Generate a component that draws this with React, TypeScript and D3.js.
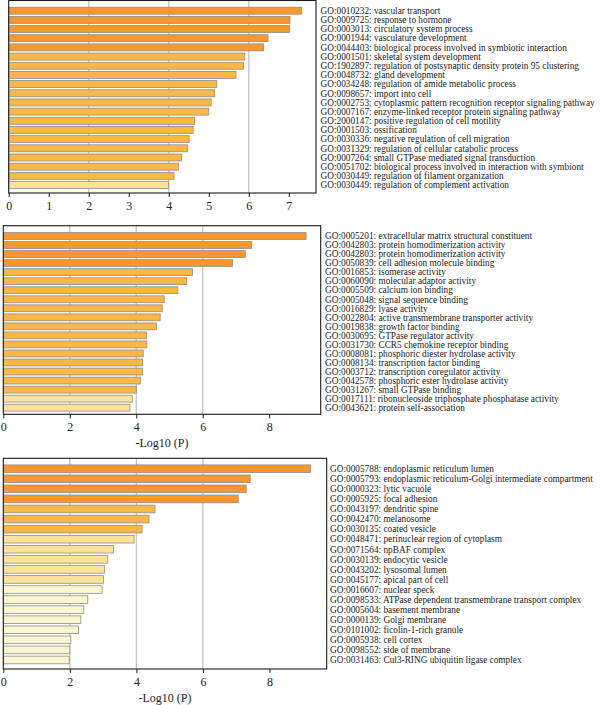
import React, { useEffect, useRef } from "react";
import * as d3 from "d3";

// ---- Data ----
const bpLabels = [
  "GO:0010232: vascular transport",
  "GO:0009725: response to hormone",
  "GO:0003013: circulatory system process",
  "GO:0001944: vasculature development",
  "GO:0044403: biological process involved in symbiotic interaction",
  "GO:0001501: skeletal system development",
  "GO:1902897: regulation of postsynaptic density protein 95 clustering",
  "GO:0048732: gland development",
  "GO:0034248: regulation of amide metabolic process",
  "GO:0098657: import into cell",
  "GO:0002753: cytoplasmic pattern recognition receptor signaling pathway",
  "GO:0007167: enzyme-linked receptor protein signaling pathway",
  "GO:2000147: positive regulation of cell motility",
  "GO:0001503: ossification",
  "GO:0030336: negative regulation of cell migration",
  "GO:0031329: regulation of cellular catabolic process",
  "GO:0007264: small GTPase mediated signal transduction",
  "GO:0051702: biological process involved in interaction with symbiont",
  "GO:0030449: regulation of filament organization",
  "GO:0030449: regulation of complement activation",
];
const bpValues = [7.32, 7.03, 7.02, 6.48, 6.37, 5.9, 5.87, 5.68, 5.2, 5.15, 5.06, 5.0, 4.65, 4.61, 4.51, 4.47, 4.32, 4.24, 4.13, 3.99];
const bpTicks = [0, 1, 2, 3, 4, 5, 6, 7];

const mfLabels = [
  "GO:0005201: extracellular matrix structural constituent",
  "GO:0042803: protein homodimerization activity",
  "GO:0042803: protein homodimerization activity",
  "GO:0050839: cell adhesion molecule binding",
  "GO:0016853: isomerase activity",
  "GO:0060090: molecular adaptor activity",
  "GO:0005509: calcium ion binding",
  "GO:0005048: signal sequence binding",
  "GO:0016829: lyase activity",
  "GO:0022804: active transmembrane transporter activity",
  "GO:0019838: growth factor binding",
  "GO:0030695: GTPase regulator activity",
  "GO:0031730: CCR5 chemokine receptor binding",
  "GO:0008081: phosphoric diester hydrolase activity",
  "GO:0008134: transcription factor binding",
  "GO:0003712: transcription coregulator activity",
  "GO:0042578: phosphoric ester hydrolase activity",
  "GO:0031267: small GTPase binding",
  "GO:0017111: ribonucleoside triphosphate phosphatase activity",
  "GO:0043621: protein self-association",
];
const mfValues = [9.11, 7.47, 7.28, 6.9, 5.69, 5.52, 5.25, 4.84, 4.78, 4.72, 4.61, 4.31, 4.32, 4.21, 4.19, 4.19, 4.13, 4.0, 3.88, 3.81];
const mfTicks = [0, 2, 4, 6, 8];

const ccLabels = [
  "GO:0005788: endoplasmic reticulum lumen",
  "GO:0005793: endoplasmic reticulum-Golgi intermediate compartment",
  "GO:0000323: lytic vacuole",
  "GO:0005925: focal adhesion",
  "GO:0043197: dendritic spine",
  "GO:0042470: melanosome",
  "GO:0030135: coated vesicle",
  "GO:0048471: perinuclear region of cytoplasm",
  "GO:0071564: npBAF complex",
  "GO:0030139: endocytic vesicle",
  "GO:0043202: lysosomal lumen",
  "GO:0045177: apical part of cell",
  "GO:0016607: nuclear speck",
  "GO:0098533: ATPase dependent transmembrane transport complex",
  "GO:0005604: basement membrane",
  "GO:0000139: Golgi membrane",
  "GO:0101002: ficolin-1-rich granule",
  "GO:0005938: cell cortex",
  "GO:0098552: side of membrane",
  "GO:0031463: Cul3-RING ubiquitin ligase complex",
];
const ccValues = [9.23, 7.42, 7.3, 7.06, 4.56, 4.38, 4.17, 3.93, 3.31, 3.14, 3.04, 3.01, 2.97, 2.54, 2.42, 2.33, 2.26, 2.03, 2.0, 1.98];
const ccTicks = [0, 2, 4, 6, 8];

const gridValues = [2, 4, 6];
const axisTitle = "-Log10 (P)";

// ---- Layout ----
const W = 600;
const H = 705;

type Panel = {
  labels: string[];
  values: number[];
  ticks: number[];
  max: number;
  x0: number;
  x1: number;
  top: number;
  bottom: number;
  bandTop: number;
  bandBottom: number;
  labelX: number;
  title: boolean;
};

const panels: Panel[] = [
  { labels: bpLabels, values: bpValues, ticks: bpTicks, max: 7.68, x0: 8.7, x1: 316, top: 0.5, bottom: 193, bandTop: 6.1, bandBottom: 189.6, labelX: 320.5, title: false },
  { labels: mfLabels, values: mfValues, ticks: mfTicks, max: 9.55, x0: 3.3, x1: 320.7, top: 225.7, bottom: 414.3, bandTop: 231.5, bandBottom: 412.2, labelX: 325, title: true },
  { labels: ccLabels, values: ccValues, ticks: ccTicks, max: 9.72, x0: 3.3, x1: 326.7, top: 458.3, bottom: 669, bandTop: 463.7, bandBottom: 665, labelX: 330, title: true },
];

const color = d3
  .scaleThreshold<number, string>()
  .domain([3, 4, 6])
  .range(["#FBF6D0", "#FCE29B", "#FBB847", "#F6972F"]);

export default function App() {
  const ref = useRef<SVGSVGElement | null>(null);

  useEffect(() => {
    const svg = d3.select(ref.current);
    svg.selectAll("*").remove();
    svg.append("rect").attr("width", W).attr("height", H).attr("fill", "#fff");

    panels.forEach((p) => {
      const g = svg.append("g");
      const x = d3.scaleLinear().domain([0, p.max]).range([p.x0, p.x1]);
      const y = d3
        .scaleBand<number>()
        .domain(d3.range(p.values.length))
        .range([p.bandTop, p.bandBottom])
        .paddingInner(0.24)
        .paddingOuter(0.12);

      // gridlines
      g.selectAll("line.grid")
        .data(gridValues)
        .join("line")
        .attr("x1", (d) => x(d))
        .attr("x2", (d) => x(d))
        .attr("y1", p.top)
        .attr("y2", p.bottom)
        .attr("stroke", "#c4c4c4")
        .attr("stroke-width", 1.3);

      // bars
      g.selectAll("rect.bar")
        .data(p.values)
        .join("rect")
        .attr("x", x(0))
        .attr("y", (_, i) => y(i) as number)
        .attr("width", (d) => x(d) - x(0))
        .attr("height", y.bandwidth())
        .attr("fill", (d) => color(d))
        .attr("stroke", "#8e8e8e")
        .attr("stroke-width", 0.8);

      // frame
      g.append("rect")
        .attr("x", p.x0)
        .attr("y", p.top)
        .attr("width", p.x1 - p.x0)
        .attr("height", p.bottom - p.top)
        .attr("fill", "none")
        .attr("stroke", "#1a1a1a")
        .attr("stroke-width", 1.1);

      // axis
      const axis = d3
        .axisBottom(x)
        .tickValues(p.ticks)
        .tickSize(4)
        .tickPadding(4)
        .tickFormat(d3.format("d"));
      const ag = g.append("g").attr("transform", `translate(0,${p.bottom})`).call(axis);
      ag.select(".domain").remove();
      ag.selectAll("line").attr("stroke", "#1a1a1a");
      ag.selectAll("text")
        .attr("font-family", "'Liberation Serif', 'DejaVu Serif', serif")
        .attr("font-size", 12)
        .attr("fill", "#222");

      if (p.title) {
        g.append("text")
          .attr("x", (p.x0 + p.x1) / 2)
          .attr("y", p.bottom + 33)
          .attr("text-anchor", "middle")
          .attr("font-family", "'Liberation Serif', 'DejaVu Serif', serif")
          .attr("font-size", 12)
          .attr("fill", "#222")
          .text(axisTitle);
      }

      // labels
      g.selectAll("text.lab")
        .data(p.labels)
        .join("text")
        .attr("class", "lab")
        .attr("x", p.labelX)
        .attr("y", (_, i) => (y(i) as number) + y.bandwidth() / 2)
        .attr("dy", "0.35em")
        .attr("font-family", "'Liberation Serif', 'DejaVu Serif', serif")
        .attr("font-size", 9.3)
        .attr("fill", "#222")
        .text((d) => d);
    });
  }, []);

  return (
    <svg
      ref={ref}
      width={W}
      height={H}
      style={{ position: "absolute", left: 0, top: 0, display: "block" }}
    />
  );
}
